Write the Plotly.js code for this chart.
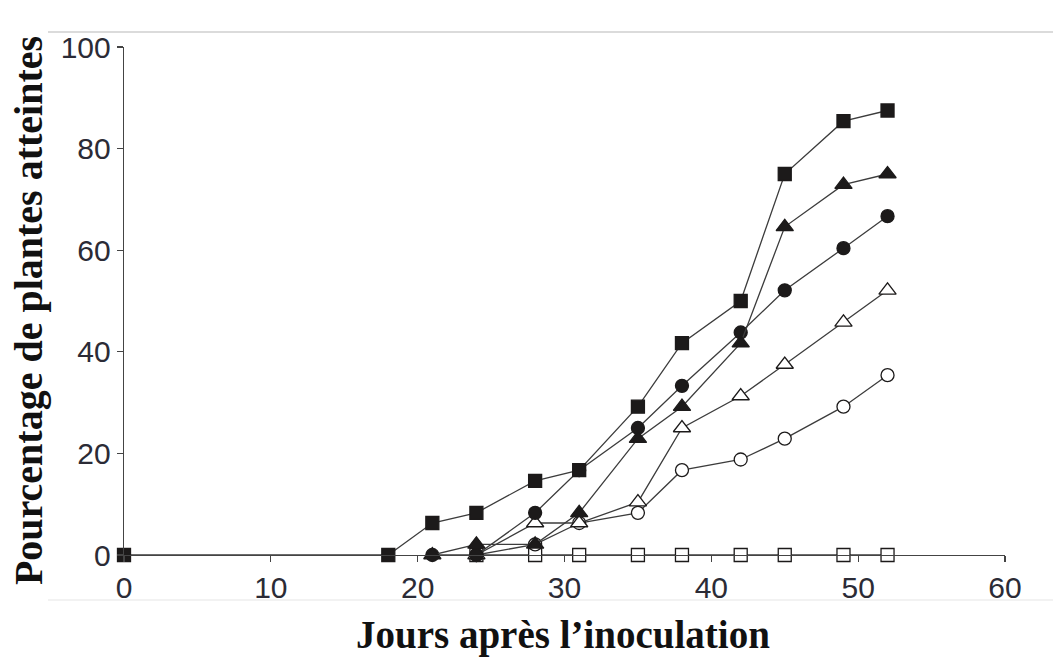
<!DOCTYPE html>
<html>
<head>
<meta charset="utf-8">
<script src="https://cdn.plot.ly/plotly-3.0.1.min.js"></script>
<style>html,body{margin:0;padding:0;background:#fff;}#chart{width:1053px;height:660px;}</style>
</head>
<body>
<div id="chart"></div>
<script>
// Jours après l'inoculation
const daysSquareFilled = [0, 18, 21, 24, 28, 31, 35, 38, 42, 45, 49, 52];
const pctSquareFilled  = [0, 0, 6.3, 8.3, 14.6, 16.7, 29.2, 41.7, 50, 75, 85.4, 87.5];

const daysTriFilled = [21, 24, 28, 31, 35, 38, 42, 45, 49, 52];
const pctTriFilled  = [0, 2.1, 2.1, 8.3, 22.9, 29.2, 41.7, 64.6, 72.9, 75];

const daysCircFilled = [21, 24, 28, 31, 35, 38, 42, 45, 49, 52];
const pctCircFilled  = [0, 0, 8.3, 16.7, 25, 33.3, 43.8, 52.1, 60.4, 66.7];

const daysTriOpen = [24, 28, 31, 35, 38, 42, 45, 49, 52];
const pctTriOpen  = [0, 6.3, 6.3, 10.4, 25, 31.3, 37.5, 45.8, 52.1];

const daysCircOpen = [24, 28, 31, 35, 38, 42, 45, 49, 52];
const pctCircOpen  = [0, 2.1, 6.3, 8.3, 16.7, 18.8, 22.9, 29.2, 35.4];

const daysSquareOpen = [24, 28, 31, 35, 38, 42, 45, 49, 52];
const pctSquareOpen  = [0, 0, 0, 0, 0, 0, 0, 0, 0];

const xTicks = [0, 10, 20, 30, 40, 50, 60];
const yTicks = [0, 20, 40, 60, 80, 100];

const lineColor = '#3c3c3c';
const ink = '#1c1a1a';

function series(name, x, y, symbol, filled) {
  return {
    type: 'scatter', mode: 'lines+markers', name: name, x: x, y: y,
    cliponaxis: false,
    line: {color: lineColor, width: 1.3},
    marker: {
      symbol: symbol,
      size: symbol === 'triangle-up' ? 15 : 13,
      color: filled ? ink : '#ffffff',
      line: {color: ink, width: 1.3}
    }
  };
}

const data = [
  series('Carré ouvert', daysSquareOpen, pctSquareOpen, 'square', false),
  series('Cercle ouvert', daysCircOpen, pctCircOpen, 'circle', false),
  series('Triangle ouvert', daysTriOpen, pctTriOpen, 'triangle-up', false),
  series('Cercle plein', daysCircFilled, pctCircFilled, 'circle', true),
  series('Triangle plein', daysTriFilled, pctTriFilled, 'triangle-up', true),
  series('Carré plein', daysSquareFilled, pctSquareFilled, 'square', true)
];

const tickFont = {family: 'Liberation Sans, Arial, sans-serif', size: 30, color: '#2b2b36'};

const layout = {
  width: 1053, height: 660,
  margin: {l: 124, r: 48, t: 47, b: 105, pad: 0},
  paper_bgcolor: '#ffffff', plot_bgcolor: '#ffffff',
  showlegend: false,
  xaxis: {
    range: [0, 60], tickvals: xTicks, ticktext: xTicks.map(String),
    showgrid: false, zeroline: false, showline: true,
    linecolor: '#444', linewidth: 1.3,
    ticks: 'outside', ticklen: 6, tickwidth: 1.3, tickcolor: '#444',
    tickfont: tickFont, fixedrange: true
  },
  yaxis: {
    range: [0, 100], tickvals: yTicks, ticktext: yTicks.map(String),
    showgrid: false, zeroline: false, showline: true,
    linecolor: '#444', linewidth: 1.3,
    ticks: 'outside', ticklen: 6, tickwidth: 1.3, tickcolor: '#444',
    tickfont: tickFont, fixedrange: true
  },
  annotations: [
    {
      text: 'Pourcentage de plantes atteintes', xref: 'paper', yref: 'paper',
      x: -0.109, y: 0.482, textangle: -90, showarrow: false,
      xanchor: 'center', yanchor: 'middle',
      font: {family: 'Liberation Serif, Times New Roman, serif', size: 40, color: '#111', weight: 'bold'}
    },
    {
      text: 'Jours après l’inoculation', xref: 'paper', yref: 'paper',
      x: 0.498, y: -0.158, showarrow: false,
      xanchor: 'center', yanchor: 'middle',
      font: {family: 'Liberation Serif, Times New Roman, serif', size: 39, color: '#111', weight: 'bold'}
    }
  ],
  shapes: [
    {type: 'line', xref: 'paper', yref: 'paper', x0: -0.0863, x1: 1.0545, y0: 1.0295, y1: 1.0295,
     line: {color: '#cfcfcf', width: 1.5}},
    {type: 'line', xref: 'paper', yref: 'paper', x0: -0.0863, x1: 1.0545, y0: -0.0886, y1: -0.0886,
     line: {color: '#e6e6e6', width: 1.2}}
  ]
};

Plotly.newPlot('chart', data, layout, {displayModeBar: false, staticPlot: true});
</script>
</body>
</html>
